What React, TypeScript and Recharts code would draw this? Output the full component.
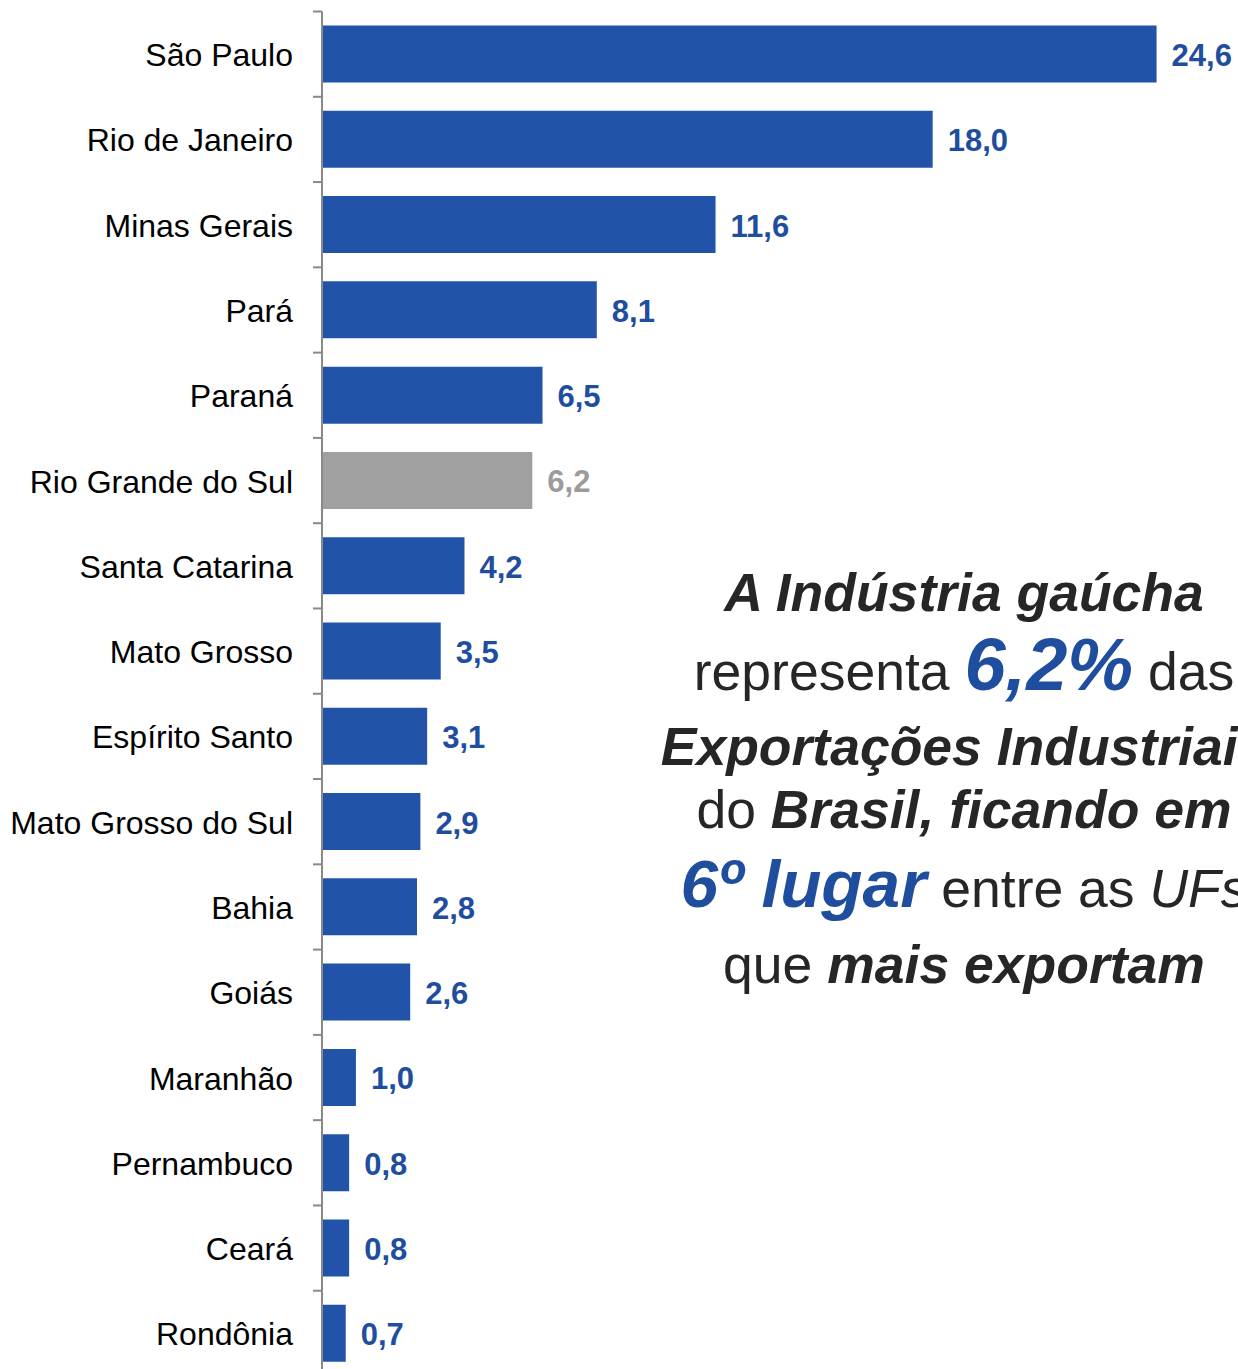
import React from "react";
import { BarChart, Bar, XAxis, YAxis, Cell, LabelList } from "recharts";

const states = [
  "São Paulo",
  "Rio de Janeiro",
  "Minas Gerais",
  "Pará",
  "Paraná",
  "Rio Grande do Sul",
  "Santa Catarina",
  "Mato Grosso",
  "Espírito Santo",
  "Mato Grosso do Sul",
  "Bahia",
  "Goiás",
  "Maranhão",
  "Pernambuco",
  "Ceará",
  "Rondônia",
];
const shares = [24.6, 18.0, 11.6, 8.1, 6.5, 6.2, 4.2, 3.5, 3.1, 2.9, 2.8, 2.6, 1.0, 0.8, 0.8, 0.7];
const highlight = "Rio Grande do Sul";

const data = states.map((s, i) => ({ state: s, value: shares[i] }));

const FONT = "Arial, 'Liberation Sans', Helvetica, sans-serif";
const BLUE = "#2154A8";
const BLUE_LABEL = "#1F4E9F";
const GRAY = "#A0A0A0";
const GRAY_LABEL = "#9B9B9B";
const DARK = "#262626";

const W = 1238;
const H = 1369;
const CHART_H = 1376;
const TOP = 11.5;
const BAND = (CHART_H - TOP) / states.length;

const CategoryTick = (props: any) => {
  const { x, y, payload } = props;
  return (
    <g>
      <line x1={x - 9} x2={x} y1={y - BAND / 2} y2={y - BAND / 2} stroke="#898989" strokeWidth={2} />
      <text x={x - 29} y={y + 12} textAnchor="end" fontFamily={FONT} fontSize={32} fill="#000">
        {payload.value}
      </text>
    </g>
  );
};

const ValueLabel = (props: any) => {
  const { x, y, width, height, value, index } = props;
  const isHi = states[index] === highlight;
  return (
    <text
      x={x + width + 15}
      y={y + height / 2 + 12}
      fontFamily={FONT}
      fontWeight="bold"
      fontSize={31}
      fill={isHi ? GRAY_LABEL : BLUE_LABEL}
    >
      {Number(value).toFixed(1).replace(".", ",")}
    </text>
  );
};

const Annotation = () => {
  const cx = 964;
  const base = { fontFamily: FONT, fill: DARK, fontSize: 53.5 } as any;
  return (
    <svg width={W} height={H} style={{ position: "absolute", left: 0, top: 0, pointerEvents: "none" }}>
      <text x={cx} y={611} textAnchor="middle" {...base} fontWeight="bold" fontStyle="italic">
        A Indústria gaúcha
      </text>
      <text x={cx} y={690} textAnchor="middle" {...base}>
        <tspan>representa </tspan>
        <tspan fontWeight="bold" fontStyle="italic" fontSize={74} fill={BLUE_LABEL}>
          6,2%
        </tspan>
        <tspan> das</tspan>
      </text>
      <text x={cx} y={765} textAnchor="middle" {...base} fontWeight="bold" fontStyle="italic">
        Exportações Industriais
      </text>
      <text x={cx} y={828} textAnchor="middle" {...base}>
        <tspan>do </tspan>
        <tspan fontWeight="bold" fontStyle="italic">
          Brasil, ficando em
        </tspan>
      </text>
      <text x={cx} y={907} textAnchor="middle" {...base}>
        <tspan fontWeight="bold" fontStyle="italic" fontSize={67.5} fill={BLUE_LABEL}>
          6º lugar
        </tspan>
        <tspan> entre as </tspan>
        <tspan fontStyle="italic">UFs</tspan>
      </text>
      <text x={cx} y={983} textAnchor="middle" {...base}>
        <tspan>que </tspan>
        <tspan fontWeight="bold" fontStyle="italic">
          mais exportam
        </tspan>
      </text>
    </svg>
  );
};

export default function App() {
  return (
    <div
      style={{
        position: "absolute",
        left: 0,
        top: 0,
        width: W,
        height: H,
        overflow: "hidden",
        background: "#fff",
      }}
    >
      <BarChart
        width={W}
        height={CHART_H}
        data={data}
        layout="vertical"
        margin={{ top: TOP, right: 0, bottom: 0, left: 0 }}
        barCategoryGap={14}
      >
        <XAxis type="number" domain={[0, 27]} hide />
        <YAxis
          type="category"
          dataKey="state"
          width={322}
          tickSize={0}
          tickMargin={0}
          tickLine={false}
          axisLine={{ stroke: "#898989", strokeWidth: 2 }}
          tick={<CategoryTick />}
          interval={0}
        />
        <Bar dataKey="value" isAnimationActive={false}>
          {data.map((d) => (
            <Cell key={d.state} fill={d.state === highlight ? GRAY : BLUE} />
          ))}
          <LabelList dataKey="value" content={<ValueLabel />} />
        </Bar>
      </BarChart>
      <Annotation />
    </div>
  );
}
